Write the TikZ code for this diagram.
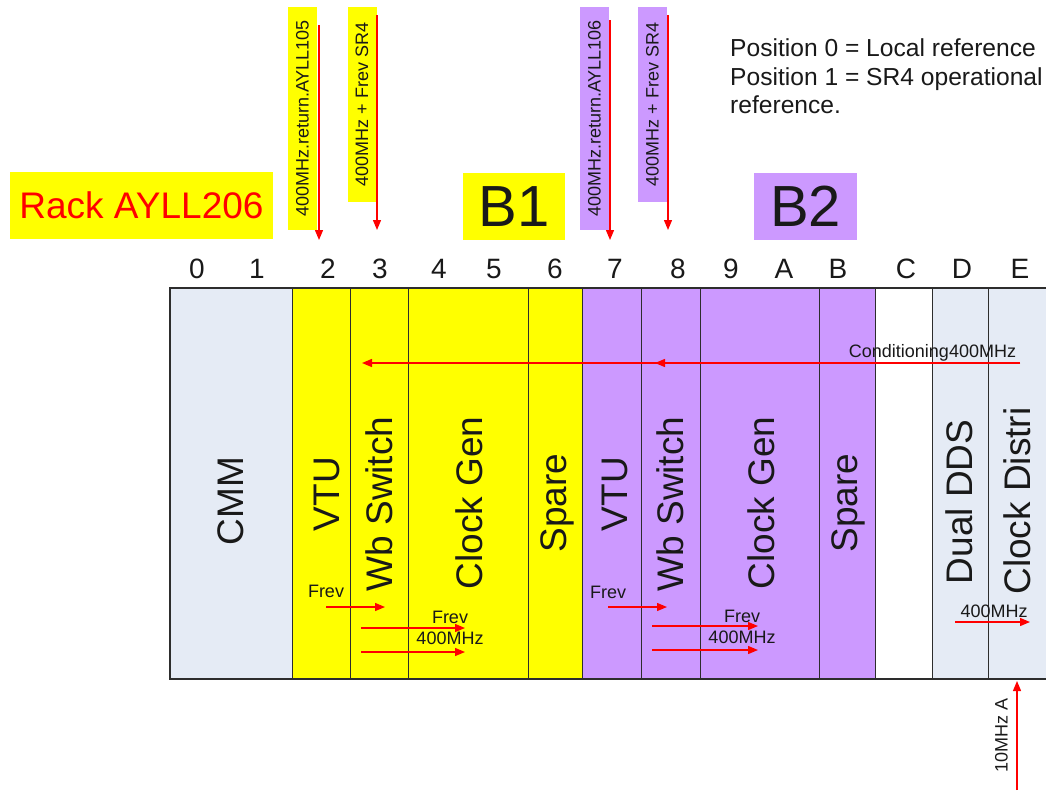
\documentclass[tikz,border=0pt]{standalone}
\usepackage{fontspec}
\setmainfont{Liberation Sans}
\usetikzlibrary{arrows.meta}
\definecolor{slotyellow}{RGB}{255,255,0}
\definecolor{slotpurple}{RGB}{204,153,255}
\definecolor{slotgrey}{RGB}{229,235,245}
\definecolor{sigred}{RGB}{255,0,0}
\definecolor{inktext}{RGB}{25,25,25}
\definecolor{slotline}{RGB}{45,45,45}

\begin{document}
\begin{tikzpicture}[x=1pt,y=-1pt,
  slot/.style={draw=slotline, line width=1.3pt, minimum height=390pt,
    inner sep=0pt, anchor=north west},
  slotlabel/.style={rotate=90, inner sep=0pt, text=inktext,
    font=\fontsize{37}{44}\selectfont},
  posnum/.style={anchor=base, inner sep=0pt, text=inktext,
    font=\fontsize{28}{33}\selectfont},
  tagbox/.style={rotate=90, minimum height=29pt, inner sep=0pt, text=inktext,
    font=\fontsize{18}{21}\selectfont},
  bigtag/.style={inner sep=0pt, minimum height=67pt},
  small/.style={inner sep=0pt, text=inktext, font=\fontsize{18}{21}\selectfont},
  sig/.style={draw=sigred, line width=1.3pt,
    -{Triangle[length=10pt,width=8pt]}},
]
\useasboundingbox (0,0) rectangle (1046,790);

% ---- slots of the crate ----
\node[slot, fill=slotgrey,   minimum width=122] (cmm)   at (170,288) {};
\node[slot, fill=slotyellow, minimum width=58]  (vtua)  at (292,288) {};
\node[slot, fill=slotyellow, minimum width=58]  (wba)   at (350,288) {};
\node[slot, fill=slotyellow, minimum width=120] (cga)   at (408,288) {};
\node[slot, fill=slotyellow, minimum width=54]  (spa)   at (528,288) {};
\node[slot, fill=slotpurple, minimum width=59]  (vtub)  at (582,288) {};
\node[slot, fill=slotpurple, minimum width=59]  (wbb)   at (641,288) {};
\node[slot, fill=slotpurple, minimum width=119] (cgb)   at (700,288) {};
\node[slot, fill=slotpurple, minimum width=56]  (spb)   at (819,288) {};
\node[slot, fill=white,      minimum width=57]  (slotc) at (875,288) {};
\node[slot, fill=slotgrey,   minimum width=56]  (dds)   at (932,288) {};
\node[slot, fill=slotgrey,   minimum width=64]  (cdis)  at (988,288) {};

% crate frame
\draw[slotline, line width=2pt] (1050,288) -- (170,288) -- (170,679) -- (1050,679);

% ---- slot names ----
\node[slotlabel] (lcmm)  at (231,501) {CMM};
\node[slotlabel] (lvtua) at (327,494) {VTU};
\node[slotlabel] (lwba)  at (379,504) {Wb Switch};
\node[slotlabel] (lcga)  at (469,503) {Clock Gen};
\node[slotlabel] (lspa)  at (557,503) {Spare};
\node[slotlabel] (lvtub) at (615,494) {VTU};
\node[slotlabel] (lwbb)  at (670,504) {Wb Switch};
\node[slotlabel] (lcgb)  at (761,503) {Clock Gen};
\node[slotlabel] (lspb)  at (848,503) {Spare};
\node[slotlabel] (ldds)  at (959,502) {Dual DDS};
\node[slotlabel] (lcdis) at (1017,501) {Clock Distri};

% ---- slot positions ----
\node[posnum] (n0) at (197,278) {0};
\node[posnum] (n1) at (257,278) {1};
\node[posnum] (n2) at (328,278) {2};
\node[posnum] (n3) at (380,278) {3};
\node[posnum] (n4) at (439,278) {4};
\node[posnum] (n5) at (494,278) {5};
\node[posnum] (n6) at (555,278) {6};
\node[posnum] (n7) at (615,278) {7};
\node[posnum] (n8) at (678,278) {8};
\node[posnum] (n9) at (731,278) {9};
\node[posnum] (nA) at (784,278) {A};
\node[posnum] (nB) at (838,278) {B};
\node[posnum] (nC) at (906,278) {C};
\node[posnum] (nD) at (962,278) {D};
\node[posnum] (nE) at (1020,278) {E};

% ---- headings ----
\node[bigtag, fill=slotyellow, minimum width=263, text=sigred,
  font=\fontsize{37}{44}\selectfont] (rack) at (141.5,205) {Rack AYLL206};
\node[bigtag, fill=slotyellow, minimum width=102, text=inktext,
  font=\fontsize{58}{66}\selectfont] (bone) at (514,206.5) {B1};
\node[bigtag, fill=slotpurple, minimum width=103, text=inktext,
  font=\fontsize{58}{66}\selectfont] (btwo) at (805.5,206.5) {B2};

\node[anchor=north west, inner sep=0pt, align=left, text=inktext,
  font=\fontsize{24.6}{28.5}\selectfont] (legend) at (730,38.5)
  {Position 0 = Local reference\\Position 1 = SR4 operational\\reference.};

% ---- incoming signal tags ----
\node[tagbox, fill=slotyellow, minimum width=223] (taga) at (302.5,118.5) {400MHz.return.AYLL105};
\node[tagbox, fill=slotyellow, minimum width=195] (tagb) at (362,104.5)   {400MHz + Frev SR4};
\node[tagbox, fill=slotpurple, minimum width=223] (tagc) at (594.5,118.5) {400MHz.return.AYLL106};
\node[tagbox, fill=slotpurple, minimum width=195] (tagd) at (652.5,104.5) {400MHz + Frev SR4};

\coordinate (ta1) at (319,25);  \coordinate (ta2) at (319,240);
\coordinate (tb1) at (377,15);  \coordinate (tb2) at (377,230);
\coordinate (tc1) at (610,20);  \coordinate (tc2) at (610,240);
\coordinate (td1) at (668,15);  \coordinate (td2) at (668,230);
\draw[sig] (ta1) -- (ta2);
\draw[sig] (tb1) -- (tb2);
\draw[sig] (tc1) -- (tc2);
\draw[sig] (td1) -- (td2);

% ---- conditioning 400 MHz distribution ----
\node[small, anchor=base] (cond) at (932.5,357) {Conditioning400MHz};
\coordinate (cd0) at (1020,363);
\coordinate (cd1) at (655,363);
\coordinate (cd2) at (362,363);
\draw[sig] (cd0) -- (cd2);
\draw[sig] (cd0) -- (cd1);

% ---- signals inside B1 ----
\node[small, anchor=base] (fa1) at (326,597) {Frev};
\node[small, anchor=base] (fa2) at (450,623) {Frev};
\node[small, anchor=base] (fa3) at (450,644) {400MHz};
\coordinate (a1s) at (326,607); \coordinate (a1e) at (385,607);
\coordinate (a2s) at (361,628); \coordinate (a2e) at (465,628);
\coordinate (a3s) at (361,652); \coordinate (a3e) at (465,652);
\draw[sig] (a1s) -- (a1e);
\draw[sig] (a2s) -- (a2e);
\draw[sig] (a3s) -- (a3e);

% ---- signals inside B2 ----
\node[small, anchor=base] (fb1) at (608,598) {Frev};
\node[small, anchor=base] (fb2) at (742,622) {Frev};
\node[small, anchor=base] (fb3) at (742,643) {400MHz};
\coordinate (b1s) at (608,607); \coordinate (b1e) at (667,607);
\coordinate (b2s) at (652,626); \coordinate (b2e) at (758,626);
\coordinate (b3s) at (652,650); \coordinate (b3e) at (758,650);
\draw[sig] (b1s) -- (b1e);
\draw[sig] (b2s) -- (b2e);
\draw[sig] (b3s) -- (b3e);

% ---- clock distribution ----
\node[small, anchor=base] (fc1) at (994,617) {400MHz};
\coordinate (c1s) at (955,622); \coordinate (c1e) at (1030,622);
\draw[sig] (c1s) -- (c1e);

\node[small, rotate=90] (ten) at (1001.5,735) {10MHz A};
\coordinate (r1s) at (1017,790); \coordinate (r1e) at (1017,681);
\draw[sig] (r1s) -- (r1e);
\end{tikzpicture}
\end{document}
